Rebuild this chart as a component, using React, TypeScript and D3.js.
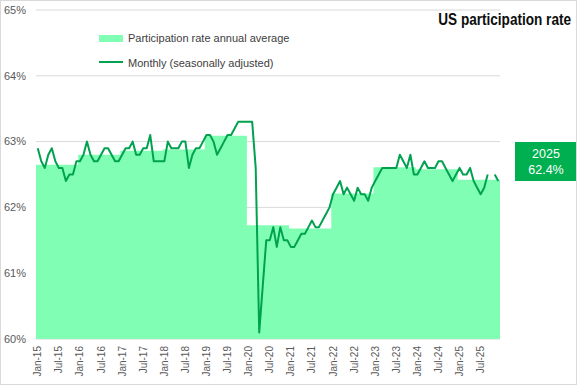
import React from "react";
import * as d3 from "d3";

const years = [2015, 2016, 2017, 2018, 2019, 2020, 2021, 2022, 2023, 2024, 2025];
const monthNames = ["Jan", "Feb", "Mar", "Apr", "May", "Jun", "Jul", "Aug", "Sep", "Oct", "Nov", "Dec"];

// Monthly participation rate, seasonally adjusted (%), Jan-15 .. Dec-25 (Oct-25 missing)
const monthlyRate: (number | null)[] = [
  62.9, 62.7, 62.6, 62.8, 62.9, 62.7, 62.6, 62.6, 62.4, 62.5, 62.5, 62.7,
  62.7, 62.8, 63.0, 62.8, 62.7, 62.7, 62.8, 62.9, 62.9, 62.8, 62.7, 62.7,
  62.8, 62.9, 62.9, 63.0, 62.8, 62.8, 62.9, 62.9, 63.1, 62.7, 62.7, 62.7,
  62.7, 63.0, 62.9, 62.9, 62.9, 63.0, 63.0, 62.6, 62.8, 62.9, 62.9, 63.0,
  63.1, 63.1, 63.0, 62.8, 62.9, 63.0, 63.1, 63.1, 63.2, 63.3, 63.3, 63.3,
  63.3, 63.3, 62.6, 60.1, 60.8, 61.5, 61.5, 61.7, 61.4, 61.7, 61.5, 61.5,
  61.4, 61.4, 61.5, 61.6, 61.6, 61.7, 61.8, 61.7, 61.7, 61.8, 61.9, 62.0,
  62.2, 62.3, 62.4, 62.2, 62.3, 62.2, 62.1, 62.3, 62.2, 62.2, 62.1, 62.3,
  62.4, 62.5, 62.6, 62.6, 62.6, 62.6, 62.6, 62.8, 62.7, 62.6, 62.8, 62.5,
  62.5, 62.6, 62.7, 62.6, 62.6, 62.6, 62.7, 62.7, 62.6, 62.5, 62.4, 62.5,
  62.6, 62.5, 62.5, 62.6, 62.4, 62.3, 62.2, 62.3, 62.5, null, 62.5, 62.4,
];

// Annual average participation rate (%)
const annualAverage = [62.65, 62.8, 62.86, 62.88, 63.09, 61.73, 61.68, 62.21, 62.61, 62.58, 62.42];

const yTicks = [60, 61, 62, 63, 64, 65];
const latestYear = "2025";
const latestValue = "62.4%";

const W = 577;
const H = 385;

export default function App() {
  const months = years.flatMap((yr) => monthNames.map((m) => `${m}-${String(yr).slice(2)}`));
  const x = d3.scaleBand<string>().domain(months).range([36, 500]).padding(0);
  const y = d3.scaleLinear().domain([60, 65]).range([339, 10]);
  const bw = x.bandwidth();
  const cx = (m: string) => (x(m) as number) + bw / 2;

  // stepped area: each month band takes its year's average
  const areaPts = months.map((m, i) => ({ x0: x(m) as number, v: annualAverage[Math.floor(i / 12)] }));
  areaPts.push({ x0: (x(months[months.length - 1]) as number) + bw, v: annualAverage[annualAverage.length - 1] });
  const areaGen = d3
    .area<{ x0: number; v: number }>()
    .x((d) => d.x0)
    .y0(y(60))
    .y1((d) => y(d.v))
    .curve(d3.curveStepAfter);

  const lineData = months.map((m, i) => ({ m, v: monthlyRate[i] }));
  const lineGen = d3
    .line<{ m: string; v: number | null }>()
    .defined((d) => d.v !== null)
    .x((d) => cx(d.m))
    .y((d) => y(d.v as number));

  const tickMonths = months.filter((m) => m.startsWith("Jan") || m.startsWith("Jul"));
  const font = "'Liberation Sans', Arial, sans-serif";

  return (
    <svg width={W} height={H} style={{ position: "fixed", left: 0, top: 0 }} fontFamily={font}>
      <rect x={0} y={0} width={W} height={H} fill="#ffffff" />
      <rect x={0.5} y={0.5} width={W - 1} height={H - 1} fill="none" stroke="#d9d9d9" />
      {yTicks.map((t) => (
        <g key={t}>
          <line x1={36} x2={500} y1={y(t)} y2={y(t)} stroke="#d9d9d9" strokeWidth={1} />
          <text x={26} y={y(t)} dy="0.35em" textAnchor="end" fontSize={11} fill="#595959">
            {t}%
          </text>
        </g>
      ))}
      <path d={areaGen(areaPts) || ""} fill="#80ffb4" />
      <path d={lineGen(lineData) || ""} fill="none" stroke="#00a24f" strokeWidth={2} strokeLinejoin="round" />
      {tickMonths.map((m) => (
        <text
          key={m}
          transform={`translate(${cx(m) + 3.5},346) rotate(-90)`}
          textAnchor="end"
          fontSize={10}
          fill="#595959"
        >
          {m}
        </text>
      ))}
      {/* legend */}
      <rect x={99} y={35} width={24} height={7} fill="#80ffb4" />
      <text x={128} y={42} fontSize={11} fill="#404040">Participation rate annual average</text>
      <line x1={99} x2={123} y1={62} y2={62} stroke="#00a24f" strokeWidth={2} />
      <text x={128} y={67} fontSize={11} fill="#404040">Monthly (seasonally adjusted)</text>
      {/* title (condensed) */}
      <text
        transform="translate(571,25) scale(0.75,1)"
        textAnchor="end"
        fontSize={16}
        fontWeight="bold"
        fill="#0d0d0d"
        textLength={177}
        lengthAdjust="spacingAndGlyphs"
      >
        US participation rate
      </text>
      {/* latest value box */}
      <rect x={515} y={142} width={61} height={39} fill="#00b050" />
      <text x={546} y={158} textAnchor="middle" fontSize={12.5} fill="#ffffff">{latestYear}</text>
      <text x={546} y={174} textAnchor="middle" fontSize={12.5} fill="#ffffff">{latestValue}</text>
    </svg>
  );
}
